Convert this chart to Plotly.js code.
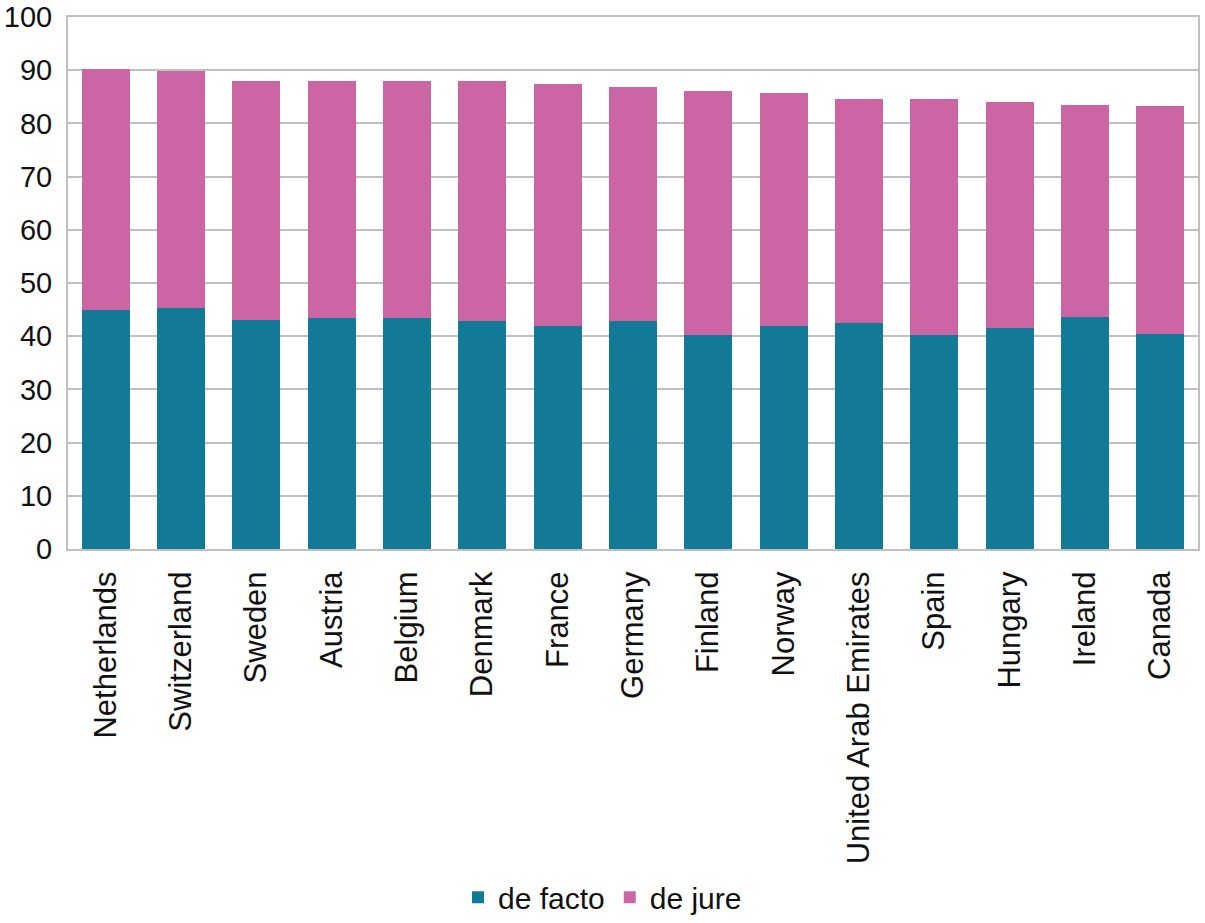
<!DOCTYPE html>
<html>
<head>
<meta charset="utf-8">
<script src="https://cdn.plot.ly/plotly-3.0.1.min.js"></script>
<style>
  html, body { margin: 0; padding: 0; background: #fff; }
  #chart { width: 1205px; height: 923px; }
</style>
</head>
<body>
<div id="chart"></div>
<script>
const countries = [
  'Netherlands', 'Switzerland', 'Sweden', 'Austria', 'Belgium', 'Denmark',
  'France', 'Germany', 'Finland', 'Norway', 'United Arab Emirates', 'Spain',
  'Hungary', 'Ireland', 'Canada'
];
const deFacto = [45.0, 45.3, 43.1, 43.5, 43.4, 42.9, 42.0, 42.8, 40.3, 42.0, 42.5, 40.3, 41.5, 43.6, 40.4];
const deJure = [45.2, 44.6, 44.9, 44.4, 44.5, 45.0, 45.4, 44.1, 45.7, 43.8, 42.1, 44.2, 42.6, 39.9, 42.9];
const yTicks = [0, 10, 20, 30, 40, 50, 60, 70, 80, 90, 100];

const font = 'Liberation Sans, Arial, sans-serif';
const gridGray = '#c0c0c0';

const traces = [
  {
    type: 'bar',
    name: 'de facto',
    x: countries,
    y: deFacto,
    marker: { color: '#127a96' },
    hoverinfo: 'x+y+name'
  },
  {
    type: 'bar',
    name: 'de jure',
    x: countries,
    y: deJure,
    marker: { color: '#cc65a3' },
    hoverinfo: 'x+y+name'
  }
];

const layout = {
  width: 1205,
  height: 923,
  barmode: 'stack',
  bargap: 0.36,
  paper_bgcolor: '#ffffff',
  plot_bgcolor: '#ffffff',
  margin: { l: 68, r: 7, t: 17, b: 374 },
  font: { family: font, size: 30, color: '#111111' },
  xaxis: {
    tickangle: -90,
    tickfont: { family: font, size: 31, color: '#111111' },
    showline: true,
    linecolor: gridGray,
    linewidth: 2,
    mirror: true,
    ticks: '',
    ticklabelstandoff: 8
  },
  yaxis: {
    range: [0, 100],
    tickmode: 'array',
    tickvals: yTicks,
    ticktext: yTicks.map(String),
    tickfont: { family: font, size: 29, color: '#111111' },
    ticklabeloverflow: 'allow',
    showgrid: true,
    gridcolor: gridGray,
    gridwidth: 2,
    showline: true,
    linecolor: gridGray,
    linewidth: 2,
    mirror: true,
    zeroline: false,
    ticks: '',
    ticklabelstandoff: 8,
    automargin: false
  },
  showlegend: true,
  legend: {
    orientation: 'h',
    xref: 'container',
    yref: 'container',
    x: 0.5,
    xanchor: 'center',
    y: 0.028,
    yanchor: 'middle',
    font: { family: font, size: 30, color: '#111111' },
    traceorder: 'normal'
  }
};

Plotly.newPlot('chart', traces, layout, { displayModeBar: false, staticPlot: true });
</script>
</body>
</html>
